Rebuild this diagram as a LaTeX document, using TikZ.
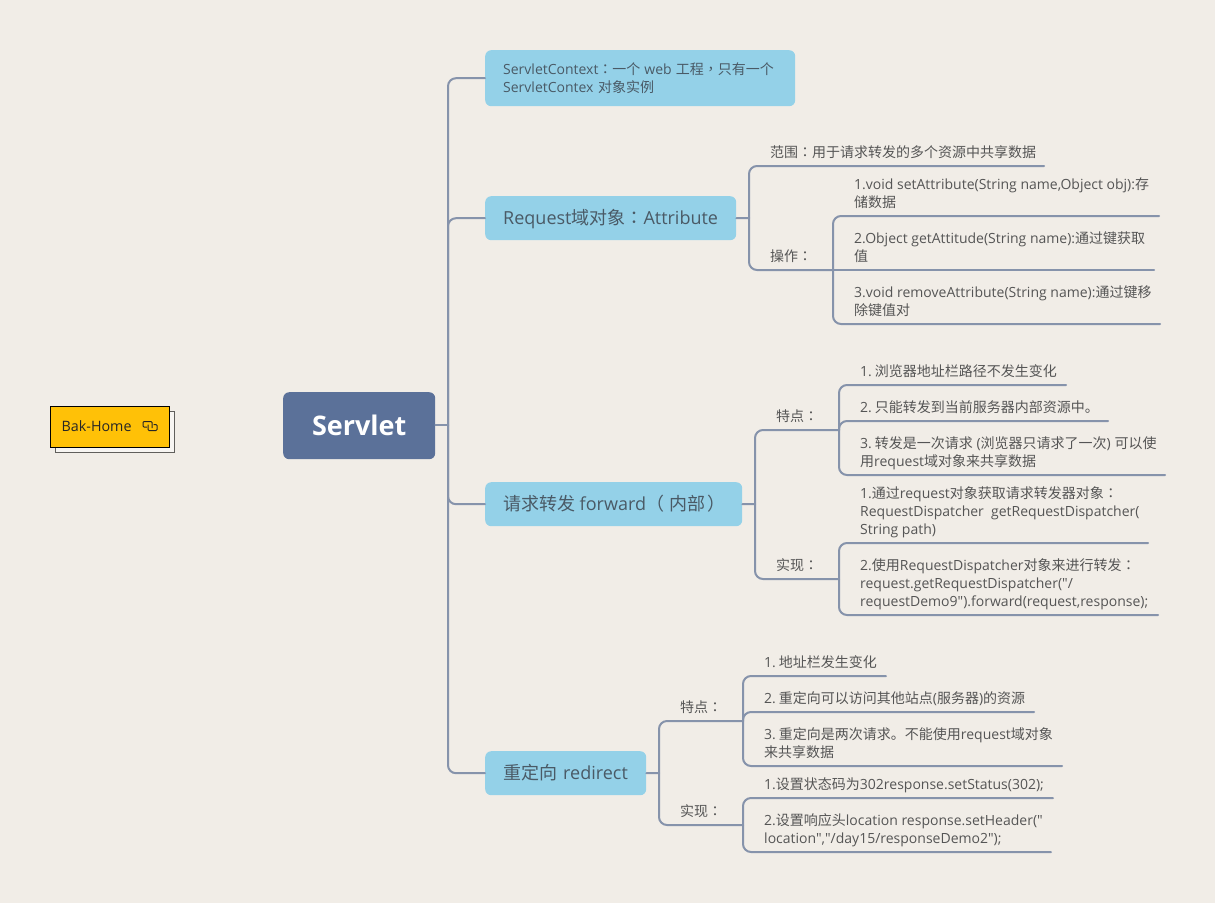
\documentclass[tikz,border=0pt]{standalone}
\usepackage{fontspec}
\setmainfont{Open Sans}
\newfontfamily\oss{Open Sans}
\newfontfamily\cjk{Noto Sans CJK SC}
\newfontfamily\cjktc{Noto Sans CJK TC}
\newcommand\zh[1]{{\cjk #1}}
\newcommand\zt[1]{{\cjktc #1}}
\newcommand\cc{{\cjktc ：}}
\newcommand\numsp{\kern3pt\relax}
\definecolor{bgc}{HTML}{F1EDE7}
\definecolor{linec}{HTML}{8693AB}
\definecolor{rootc}{HTML}{5B7199}
\definecolor{branchc}{HTML}{94D1E8}
\definecolor{textc}{HTML}{555555}
\definecolor{btext}{HTML}{4A5A66}
\definecolor{goldc}{HTML}{FFC107}
\tikzset{
  conn/.style={draw=linec,line width=2pt,line cap=round},
  elbow/.style={conn,rounded corners=8pt},
  rootbox/.style={fill=rootc,rounded corners=6pt,text=white,font=\oss\fontsize{27}{34}\selectfont\bfseries,inner sep=0pt,text height=21pt,text depth=2pt,minimum width=152pt,minimum height=67pt,anchor=north west},
  branch/.style={fill=branchc,rounded corners=6pt,text=btext,inner ysep=0pt,inner xsep=18pt,align=left,minimum height=44pt,anchor=north west},
  big/.style={font=\oss\fontsize{18}{24}\selectfont,text height=15pt,text depth=3pt},
  leaf/.style={anchor=south west,inner xsep=0pt,inner ysep=3.3pt,align=left,text=textc,font=\oss\fontsize{14}{18}\selectfont},
}
\begin{document}
\begin{tikzpicture}[x=1pt,y=-1pt]
\useasboundingbox[fill=bgc] (0,0) rectangle (1215,903);

% floating topic
\path[fill=white!45!bgc,draw=black!60!bgc,line width=1pt] (55.5,411.5) rectangle (174,452);
\node[draw=black,line width=1pt,fill=goldc,minimum width=119pt,minimum height=41pt,inner sep=0pt,anchor=north west] (bak) at (50,405.5) {};
\node[anchor=west,inner sep=0pt,text=black!85,font=\oss\fontsize{14.3}{18}\selectfont] (baktxt) at (61.5,426) {Bak-Home};
\draw[black!85,line width=1pt,rounded corners=1pt] (147,427) -- (143,427) -- (143,421.5) -- (152,421.5) -- (152,428);
\draw[black!85,line width=1pt,rounded corners=1pt] (148,424.5) -- (148,430.5) -- (157,430.5) -- (157,424.5) -- (153.5,424.5);

% root and branches
\node[rootbox] (root) at (283,392) {Servlet};
\node[branch,minimum height=56pt,text width=274pt,font=\oss\fontsize{14}{18}\selectfont] (a) at (485,50)
  {ServletContext\cc\zh{一个}\kern4pt web\kern4pt\zh{工程}\zt{，}\zh{只有一个}\\ServletContex \zh{对象实例}};
\node[branch,text width=215pt,big] (b) at (485,196) {\mbox{Request\zh{域对象}\cc Attribute}};
\node[branch,text width=221pt,big] (c) at (485,482) {\mbox{\zh{请求转发}\kern4.5pt forward\zt{（}\kern5pt\zh{内部}\kern2pt\zt{）}}};
\node[branch,text width=125pt,big] (d) at (485,751) {\mbox{\zh{重定向} redirect}};

\coordinate (j0) at (448,425);
\draw[conn] (root.east |- j0) -- (j0);
\draw[elbow] (j0) |- (a.west);
\draw[elbow] (j0) |- (b.west);
\draw[elbow] (j0) |- (c.west);
\draw[elbow] (j0) |- (d.west);

% Request branch
\coordinate (jb) at (749,218);
\draw[conn] (b.east) -- (jb);
\node[leaf] (b1) at (770,166) {\zh{范围}\cc\zh{用于请求转发的多个资源中共享数据}\strut};
\coordinate (b1e) at (1044,166);
\node[leaf] (b2) at (770,270) {\zh{操作}\cc\strut};
\coordinate (b2j) at (833,270);
\draw[elbow] (jb) |- (b1e);
\draw[elbow] (jb) |- (b2j);
\node[leaf] (b21) at (854,216) {1.void setAttribute(String name,Object obj):\zh{存}\\\zh{储数据}\strut};
\coordinate (b21e) at (1159,216);
\node[leaf] (b22) at (854,270) {2.Object getAttitude(String name):\zh{通过键获取}\\\zh{值}\strut};
\coordinate (b22e) at (1154,270);
\node[leaf] (b23) at (854,324) {3.void removeAttribute(String name):\zh{通过键移}\\\zh{除键值对}\strut};
\coordinate (b23e) at (1160,324);
\draw[elbow] (b2j) |- (b21e);
\draw[conn] (b2j) -- (b22e);
\draw[elbow] (b2j) |- (b23e);

% Forward branch
\coordinate (jc) at (755,504);
\draw[conn] (c.east) -- (jc);
\node[leaf] (c1) at (776,430) {\zh{特点}\cc\strut};
\coordinate (c1j) at (839,430);
\node[leaf] (c2) at (776,579) {\zh{实现}\cc\strut};
\coordinate (c2j) at (839,579);
\draw[elbow] (jc) |- (c1j);
\draw[elbow] (jc) |- (c2j);
\node[leaf] (c11) at (860,385) {1.\numsp\zh{浏览器地址栏路径不发生变化}\strut};
\coordinate (c11e) at (1066,385);
\node[leaf] (c12) at (860,421) {2.\numsp\zh{只能转发到当前服务器内部资源中。}\strut};
\coordinate (c12e) at (1108,421);
\node[leaf] (c13) at (860,475) {3.\numsp\zh{转发是一次请求} (\zh{浏览器只请求了一次}) \zh{可以使}\\\zh{用}request\zh{域对象来共享数据}\strut};
\coordinate (c13e) at (1165,475);
\draw[elbow] (c1j) |- (c11e);
\draw[elbow] (c1j) |- (c12e);
\draw[elbow] (c1j) |- (c13e);
\node[leaf] (c21) at (860,543) {1.\zh{通过}request\zh{对象获取请求转发器对象}\cc\\RequestDispatcher\ \ getRequestDispatcher(\\String path)\strut};
\coordinate (c21e) at (1148,543);
\node[leaf] (c22) at (860,615) {2.\zh{使用}RequestDispatcher\zh{对象来进行转发}\cc\\request.getRequestDispatcher("/\\requestDemo9").forward(request,response);\strut};
\coordinate (c22e) at (1158,615);
\draw[elbow] (c2j) |- (c21e);
\draw[elbow] (c2j) |- (c22e);

% Redirect branch
\coordinate (jd) at (659,773);
\draw[conn] (d.east) -- (jd);
\node[leaf] (d1) at (680,721) {\zh{特点}\cc\strut};
\coordinate (d1j) at (743,721);
\node[leaf] (d2) at (680,825) {\zh{实现}\cc\strut};
\coordinate (d2j) at (743,825);
\draw[elbow] (jd) |- (d1j);
\draw[elbow] (jd) |- (d2j);
\node[leaf] (d11) at (764,676) {1.\numsp\zh{地址栏发生变化}\strut};
\coordinate (d11e) at (886,676);
\node[leaf] (d12) at (764,712) {2.\numsp\zh{重定向可以访问其他站点}(\zh{服务器})\zh{的资源}\strut};
\coordinate (d12e) at (1034,712);
\node[leaf] (d13) at (764,766) {3.\numsp\zh{重定向是两次请求。不能使用}request\zh{域对象}\\\zh{来共享数据}\strut};
\coordinate (d13e) at (1062,766);
\draw[elbow] (d1j) |- (d11e);
\draw[elbow] (d1j) |- (d12e);
\draw[elbow] (d1j) |- (d13e);
\node[leaf] (d21) at (764,798) {1.\zh{设置状态码为}302response.setStatus(302);\strut};
\coordinate (d21e) at (1053,798);
\node[leaf] (d22) at (764,852) {2.\zh{设置响应头}location response.setHeader("\\location","/day15/responseDemo2");\strut};
\coordinate (d22e) at (1051,852);
\draw[elbow] (d2j) |- (d21e);
\draw[elbow] (d2j) |- (d22e);
\end{tikzpicture}
\end{document}
